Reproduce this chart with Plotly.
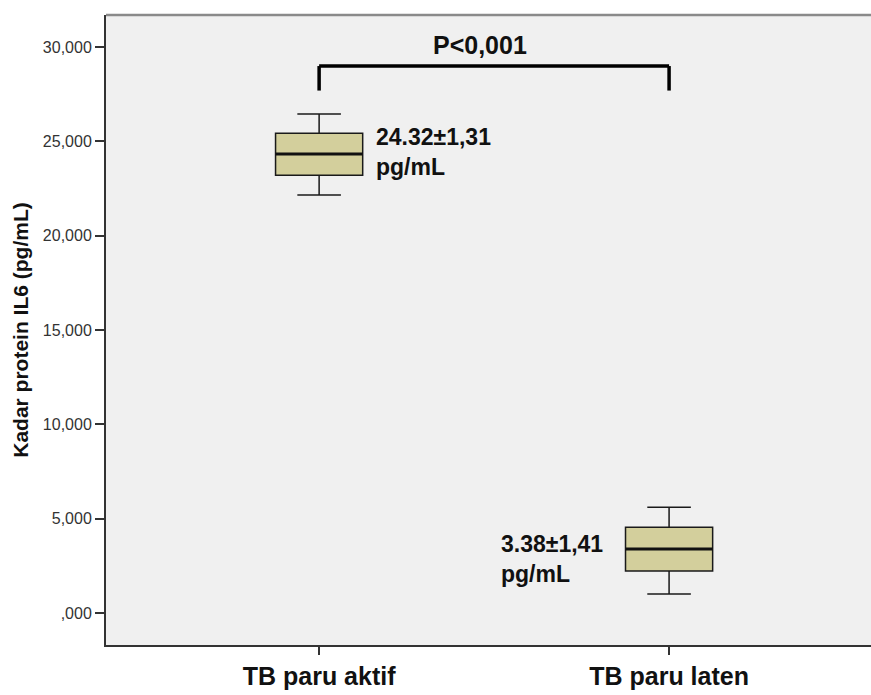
import plotly.graph_objects as go

categories = ["TB paru aktif", "TB paru laten"]
lower_whisker = [22163, 1007]
q1_vals = [23208, 2227]
medians = [24337, 3393]
q3_vals = [25434, 4544]
upper_whisker = [26458, 5604]
box_labels = ["24.32±1,31<br>pg/mL", "3.38±1,41<br>pg/mL"]
tick_vals = [0, 5000, 10000, 15000, 20000, 25000, 30000]
tick_text = [",000", "5,000", "10,000", "15,000", "20,000", "25,000", "30,000"]
p_label = "P<0,001"
y_title = "Kadar protein IL6 (pg/mL)"

FONT = "Arial, Liberation Sans, sans-serif"
BOX_W = 0.249

fig = go.Figure()
fig.add_trace(go.Box(
    x=categories,
    q1=q1_vals, median=medians, q3=q3_vals,
    lowerfence=lower_whisker, upperfence=upper_whisker,
    fillcolor="#d3cf9c",
    line=dict(color="#1a1a1a", width=1.5),
    whiskerwidth=0.5,
    width=BOX_W,
    boxpoints=False,
    hoverinfo="skip",
    showlegend=False,
))

# thicker median lines
for i, m in enumerate(medians):
    fig.add_shape(type="line", xref="x", yref="y", x0=i - BOX_W / 2, x1=i + BOX_W / 2,
                  y0=m, y1=m, line=dict(color="#111", width=3))

fig.add_annotation(x=categories[0], y=medians[0], text="<b>" + box_labels[0] + "</b>", showarrow=False,
                   xanchor="left", yanchor="middle", xshift=55, yshift=2, align="left",
                   font=dict(family=FONT, size=23, color="#111"))
fig.add_annotation(x=categories[1], y=medians[1], text="<b>" + box_labels[1] + "</b>", showarrow=False,
                   xanchor="right", yanchor="middle", xshift=-64, yshift=-10, align="left",
                   font=dict(family=FONT, size=23, color="#111"))

# significance bracket
y_br = 29000
y_br_end = 27700
fig.add_shape(type="line", xref="x", yref="y", x0=0, x1=1, y0=y_br, y1=y_br,
              line=dict(color="black", width=3.5))
fig.add_shape(type="line", xref="x", yref="y", x0=0, x1=0, y0=y_br, y1=y_br_end,
              line=dict(color="black", width=3.5))
fig.add_shape(type="line", xref="x", yref="y", x0=1, x1=1, y0=y_br, y1=y_br_end,
              line=dict(color="black", width=3.5))
fig.add_annotation(x=0.46, y=y_br, text="<b>" + p_label + "</b>", showarrow=False,
                   yanchor="bottom", yshift=5, font=dict(family=FONT, size=25, color="#111"))

# top border
fig.add_shape(type="line", xref="paper", yref="paper", x0=0, x1=1, y0=1, y1=1,
              line=dict(color="#8a8a8a", width=2.5))

fig.update_layout(
    width=871, height=695,
    margin=dict(l=106, r=0, t=15, b=50),
    paper_bgcolor="white",
    plot_bgcolor="#f0f0f0",
    font=dict(family=FONT),
    xaxis=dict(
        type="category",
        range=[-0.609, 1.577],
        showline=True, linecolor="#333", linewidth=2,
        ticks="outside", ticklen=8, tickcolor="#333", tickwidth=1.5,
        showgrid=False, zeroline=False,
        tickfont=dict(family=FONT, size=25, color="#111"),
        tickprefix="<b>", ticksuffix="</b>",
    ),
    yaxis=dict(
        range=[-1697, 31707],
        showline=True, linecolor="#333", linewidth=2,
        ticks="outside", ticklen=9, tickcolor="#333", tickwidth=2,
        tickvals=tick_vals, ticktext=tick_text,
        showgrid=False, zeroline=False,
        tickfont=dict(family=FONT, size=16, color="#333"),
        title=dict(text="<b>" + y_title + "</b>", font=dict(family=FONT, size=21, color="#111"),
                   standoff=9),
    ),
)

fig.write_html("out.html")
